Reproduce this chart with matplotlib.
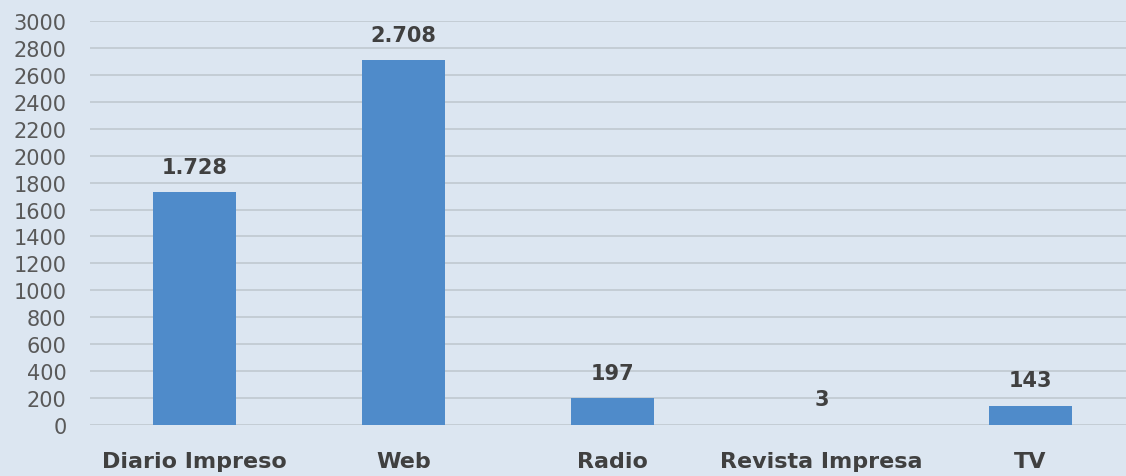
import matplotlib
matplotlib.use("Agg")
import matplotlib.pyplot as plt

categorias = ["Diario Impreso", "Web", "Radio", "Revista Impresa", "TV"]
valores = [1728, 2708, 197, 3, 143]
etiquetas = ["1.728", "2.708", "197", "3", "143"]

fondo = "#DCE6F1"
azul = "#4F8BCA"

plt.rcParams['font.family'] = ['DejaVu Sans']

fig = plt.figure(figsize=(11.26, 4.77), dpi=100, facecolor=fondo)
ax = fig.add_axes([90 / 1126, 51 / 477, 1036 / 1126, 404 / 477])
ax.set_facecolor(fondo)

x = range(len(categorias))
barras = ax.bar(x, valores, width=0.4, color=azul, zorder=3)

# etiquetas de valor encima de cada barra
for b, txt in zip(barras, etiquetas):
    ax.annotate(txt, (b.get_x() + b.get_width() / 2, b.get_height()),
                xytext=(0, 11), textcoords="offset points",
                ha="center", va="bottom", fontsize=15, fontweight="bold",
                color="#404040")

ax.set_ylim(0, 3000)
ax.set_xlim(-0.5, 4.457)
ax.set_yticks(range(0, 3001, 200))
ax.yaxis.grid(True, color="#C0C8D0", linewidth=1.2, zorder=0)
ax.tick_params(axis="y", length=0, labelsize=15, labelcolor="#595959", pad=17)
ax.tick_params(axis="x", length=0, labelsize=16, labelcolor="#404040", pad=19)
ax.set_xticks(list(x))
ax.set_xticklabels(categorias, fontweight="bold")
for s in ax.spines.values():
    s.set_visible(False)

fig.savefig("out.png", dpi=100, facecolor=fondo)
